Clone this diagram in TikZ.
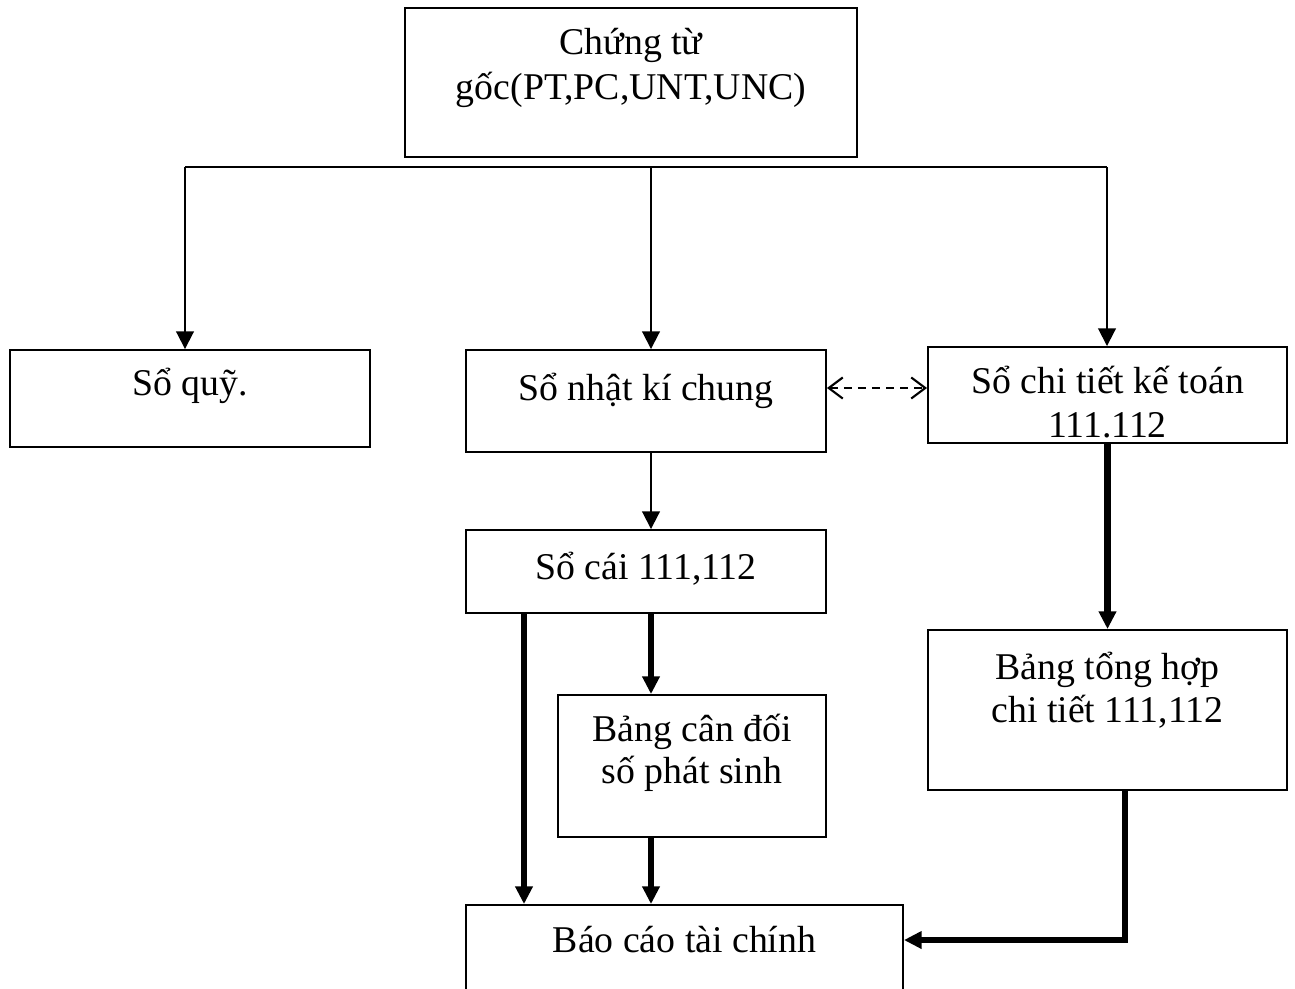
\documentclass[tikz,border=0pt]{standalone}
\usepackage{fontspec}
\setmainfont{Liberation Serif}
\usetikzlibrary{positioning,arrows.meta}

\begin{document}
\begin{tikzpicture}[
  box/.style={draw, line width=1.1pt, inner sep=0pt},
  txt/.style={align=center, inner sep=0pt, font=\fontsize{21.5}{25.5}\selectfont},
  thin arrow/.style={line width=1.1pt, -{Triangle[width=10pt,length=10pt]}},
  thick arrow/.style={line width=3.6pt, -{Triangle[width=9.5pt,length=10pt]}},
  dash arrow/.style={line width=1.2pt, dash pattern=on 4.5pt off 3.5pt, {Straight Barb[width=12pt,length=8pt]}-{Straight Barb[width=12pt,length=8pt]}}
]
\useasboundingbox (0,0) rectangle (25.9,-19.76);

% ======================================
% SOURCE DOCUMENTS
% ======================================
\node[box, minimum width=9.04cm, minimum height=2.98cm] (goc) at (12.62,-1.65) {};
\node[txt] (gocTxt) at (12.62,-1.36) {Chứng từ\\gốc(PT,PC,UNT,UNC)};

\coordinate (jl) at (3.70,-3.34);
\coordinate (jc) at (13.02,-3.34);
\coordinate (jr) at (22.14,-3.34);
\draw [line width=1.1pt] (jl) -- (jr);

% ======================================
% BOOKS
% ======================================
\node[box, minimum width=7.2cm, minimum height=1.94cm] (quy) at (3.80,-7.97) {};
\node[txt] (quyTxt) at ([yshift=0.26cm]quy.center) {Sổ quỹ.};
\node[box, minimum width=7.2cm, minimum height=2.04cm] (nkc) at (12.92,-8.02) {};
\node[txt] (nkcTxt) at ([yshift=0.2cm]nkc.center) {Sổ nhật kí chung};
\node[box, minimum width=7.18cm, minimum height=1.92cm] (ct) at (22.15,-7.90) {};
\node[txt] (ctTxt) at ([yshift=-0.14cm]ct.center) {Sổ chi tiết kế toán\\111.112};

\draw [thin arrow] (jl) -- (jl |- quy.north);
\draw [thin arrow] (jc) -- (jc |- nkc.north);
\draw [thin arrow] (jr) -- (jr |- ct.north);

\coordinate (dy) at (0,-7.76);
\draw [dash arrow] (nkc.east |- dy) -- (ct.west |- dy);

% ======================================
% LEDGER AND SUMMARIES
% ======================================
\node[box, minimum width=7.2cm, minimum height=1.66cm] (socai) at (12.92,-11.43) {};
\node[txt] (socaiTxt) at ([yshift=0.06cm]socai.center) {Sổ cái 111,112};
\node[box, minimum width=5.36cm, minimum height=2.84cm] (cdps) at (13.84,-15.32) {};
\node[txt, font=\fontsize{21.5}{24}\selectfont] (cdpsTxt) at ([yshift=0.26cm]cdps.center) {Bảng cân đối\\số phát sinh};
\node[box, minimum width=7.18cm, minimum height=3.2cm] (thct) at (22.15,-14.20) {};
\node[txt, font=\fontsize{21.5}{24.5}\selectfont] (thctTxt) at ([yshift=0.4cm]thct.center) {Bảng tổng hợp\\chi tiết 111,112};

\draw [thin arrow] (jc |- nkc.south) -- (jc |- socai.north);
\draw [thick arrow] (jc |- socai.south) -- (jc |- cdps.north);
\draw [thick arrow] (ct.south) -- (thct.north);

% ======================================
% FINANCIAL REPORT
% ======================================
\node[box, minimum width=8.74cm, minimum height=1.8cm] (bctc) at (13.69,-19.0) {};
\node[txt] (bctcTxt) at ([yshift=0.2cm]bctc.center) {Báo cáo tài chính};

\coordinate (sl) at (10.48,-11);
\draw [thick arrow] (sl |- socai.south) -- (sl |- bctc.north);
\draw [thick arrow] (jc |- cdps.south) -- (jc |- bctc.north);

\coordinate (tr) at (22.5,-18.8);
\draw [thick arrow] (tr |- thct.south) -- (tr) -- (tr -| bctc.east);

\end{tikzpicture}
\end{document}
